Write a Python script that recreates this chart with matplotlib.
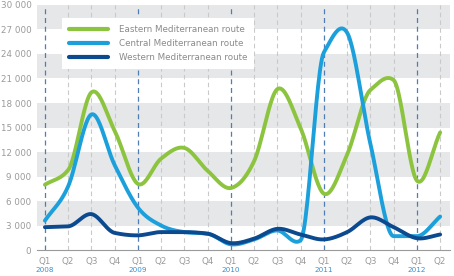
import numpy as np
from matplotlib import pyplot as plt

# quarters Q1 2008 .. Q2 2012
quarters = ["Q1", "Q2", "Q3", "Q4"] * 4 + ["Q1", "Q2"]
years = ["2008", "2009", "2010", "2011", "2012"]

eastern = [8000, 9800, 19300, 14600, 8100, 11200, 12500, 9700, 7600, 10900,
           19700, 14900, 6900, 11700, 19600, 20800, 8500, 14400]
central = [3600, 7800, 16600, 10400, 5200, 3000, 2200, 2000, 700, 1300,
           2400, 1200, 24200, 26600, 13000, 1700, 1700, 4100]
western = [2800, 2900, 4400, 2100, 1800, 2200, 2200, 2000, 850, 1400,
           2600, 1900, 1300, 2200, 4000, 2800, 1450, 1900]

labels = ["Eastern Mediterranean route", "Central Mediterranean route",
          "Western Mediterranean route"]
colors = ["#8cc43f", "#1ba0dc", "#0c4a90"]


def smooth(y, n=24):
    # cubic hermite through the points (catmull-rom tangents, capped so it doesn't overshoot much)
    y = np.asarray(y, float)
    d = np.diff(y)
    m = np.zeros_like(y)
    m[0], m[-1] = d[0], d[-1]
    for i in range(1, len(y) - 1):
        cr = (d[i - 1] + d[i]) / 2
        cap = 2 * min(abs(d[i - 1]), abs(d[i]))
        m[i] = np.clip(cr, -cap, cap)
    xs, ys = [], []
    t = np.linspace(0, 1, n, endpoint=False)
    h00 = 2 * t ** 3 - 3 * t ** 2 + 1
    h10 = t ** 3 - 2 * t ** 2 + t
    h01 = -2 * t ** 3 + 3 * t ** 2
    h11 = t ** 3 - t ** 2
    for i in range(len(y) - 1):
        xs.append(i + t)
        ys.append(y[i] * h00 + m[i] * h10 + y[i + 1] * h01 + m[i + 1] * h11)
    xs.append([len(y) - 1])
    ys.append([y[-1]])
    return np.concatenate(xs), np.concatenate(ys)


fig = plt.figure(figsize=(4.54, 2.76), dpi=100)
ax = fig.add_axes([0.0815, 0.094, 0.91, 0.888])

x = np.arange(len(quarters))
ax.set_xlim(-0.34, 17.43)
ax.set_ylim(0, 30000)

# grey bands
for lo in range(3000, 30000, 6000):
    ax.axhspan(lo, lo + 3000, color="#e6e7e8", zorder=0, lw=0)

# vertical dashed lines
for i in x:
    if quarters[i] == "Q1":
        ax.axvline(i, color="#4f7db5", ls=(0, (4, 3)), lw=0.9, zorder=1)
    else:
        ax.axvline(i, color="#c9c9c9", ls=(0, (4, 3)), lw=0.8, zorder=1)

for data, lab, c in zip([eastern, central, western], labels, colors):
    sx, sy = smooth(data)
    ax.plot(sx, sy, color=c, lw=2.8, label=lab, solid_capstyle="round", zorder=3)

ax.set_yticks(range(0, 30001, 3000))
ax.set_yticklabels([f"{v:,}".replace(",", " ") for v in range(0, 30001, 3000)])
ax.set_xticks(x)
ax.set_xticklabels(quarters)
ax.tick_params(axis="both", colors="#9a9a9a", labelsize=6.3, length=0)
ax.tick_params(axis="x", pad=5)
ax.tick_params(axis="y", pad=4)

for s in ["top", "right", "left"]:
    ax.spines[s].set_visible(False)
ax.spines["bottom"].set_color("#9a9a9a")
ax.spines["bottom"].set_linewidth(0.8)

# year labels at the very bottom
for k, yr in enumerate(years):
    ax.annotate(yr, (4 * k, 0), xytext=(0, -12.3), textcoords="offset points",
                ha="center", va="top", fontsize=5.2, color="#3a8fd0")

leg = ax.legend(loc="upper left", bbox_to_anchor=(0.05, 0.965), frameon=True,
                fontsize=6.3, handlelength=4.5, handletextpad=1.2,
                borderpad=0.8, labelspacing=0.6, fancybox=False)
leg.get_frame().set_edgecolor("none")
leg.get_frame().set_facecolor("white")
leg.get_frame().set_alpha(1)
for t in leg.get_texts():
    t.set_color("#8a8a8a")
for l in leg.get_lines():
    l.set_linewidth(3)
leg.set_zorder(5)

fig.savefig("out.png", dpi=100)
